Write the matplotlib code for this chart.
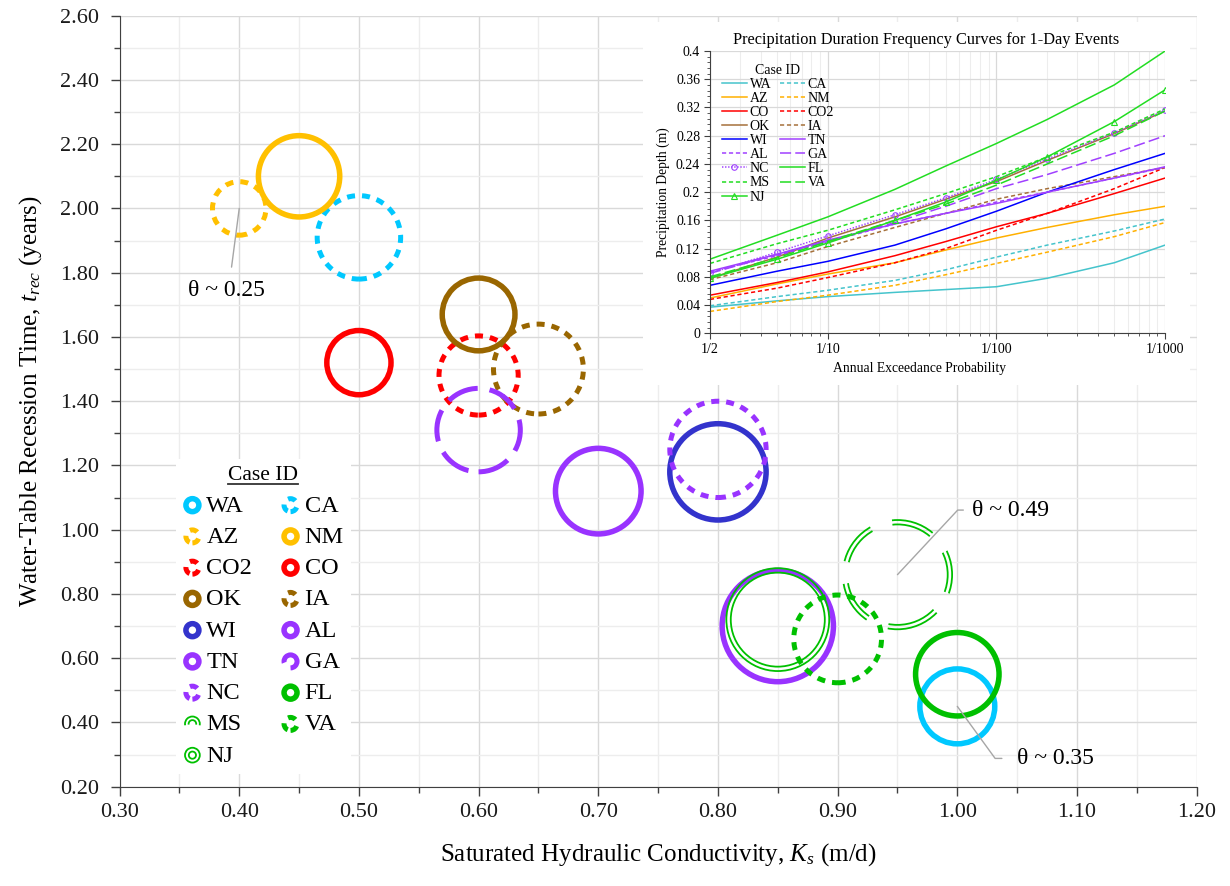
import matplotlib
matplotlib.use("Agg")
import matplotlib.pyplot as plt
import matplotlib.transforms as mtransforms
from matplotlib.lines import Line2D
from matplotlib.patches import Rectangle
from matplotlib.legend_handler import HandlerTuple
from matplotlib.ticker import MultipleLocator, FixedLocator, LogLocator, NullFormatter, FormatStrFormatter, FuncFormatter
import math

plt.rcParams["font.family"] = ["Liberation Serif", "DejaVu Serif"]
plt.rcParams["mathtext.fontset"] = "custom"
plt.rcParams["mathtext.rm"] = "Liberation Serif"
plt.rcParams["mathtext.it"] = "Liberation Serif:italic"
plt.rcParams["lines.scale_dashes"] = False

# ---------------------------------------------------------------
# bubble chart data: Ks (m/d), recession time (years), porosity
# ---------------------------------------------------------------
cases = ["WA", "CA", "AZ", "NM", "CO2", "CO", "OK", "IA", "WI",
         "AL", "TN", "GA", "NC", "FL", "MS", "VA", "NJ"]
ks = [1.00, 0.50, 0.40, 0.45, 0.60, 0.50, 0.60, 0.65, 0.80,
      0.85, 0.70, 0.60, 0.80, 1.00, 0.95, 0.90, 0.85]
trec = [0.45, 1.91, 2.00, 2.10, 1.48, 1.52, 1.67, 1.50, 1.18,
        0.70, 1.12, 1.31, 1.25, 0.55, 0.86, 0.66, 0.72]
theta = [0.35, 0.39, 0.25, 0.38, 0.37, 0.30, 0.34, 0.42, 0.45,
         0.52, 0.40, 0.39, 0.45, 0.39, 0.49, 0.41, 0.46]

# ---------------------------------------------------------------
# 1-day precipitation depth (m) vs return period (years)
# ---------------------------------------------------------------
periods = [2, 5, 10, 25, 50, 100, 200, 500, 1000]
depth_WA = [0.037, 0.046, 0.052, 0.058, 0.062, 0.066, 0.078, 0.100, 0.125]
depth_CA = [0.039, 0.052, 0.061, 0.075, 0.090, 0.108, 0.125, 0.145, 0.162]
depth_AZ = [0.050, 0.070, 0.084, 0.100, 0.118, 0.135, 0.150, 0.168, 0.180]
depth_NM = [0.031, 0.045, 0.054, 0.068, 0.083, 0.099, 0.115, 0.137, 0.157]
depth_CO = [0.054, 0.072, 0.087, 0.110, 0.130, 0.151, 0.170, 0.198, 0.220]
depth_CO2 = [0.048, 0.064, 0.079, 0.100, 0.120, 0.146, 0.170, 0.205, 0.235]
depth_OK = [0.078, 0.108, 0.135, 0.165, 0.190, 0.215, 0.245, 0.283, 0.315]
depth_IA = [0.076, 0.100, 0.123, 0.150, 0.170, 0.190, 0.205, 0.222, 0.235]
depth_WI = [0.068, 0.088, 0.102, 0.125, 0.148, 0.173, 0.200, 0.232, 0.255]
depth_TN = [0.088, 0.112, 0.132, 0.155, 0.170, 0.184, 0.200, 0.220, 0.236]
depth_AL = [0.087, 0.110, 0.130, 0.155, 0.170, 0.186, 0.200, 0.220, 0.235]
depth_GA = [0.085, 0.112, 0.130, 0.157, 0.180, 0.205, 0.225, 0.255, 0.280]
depth_NC = [0.085, 0.115, 0.138, 0.168, 0.192, 0.218, 0.247, 0.284, 0.316]
depth_FL = [0.105, 0.139, 0.165, 0.204, 0.237, 0.269, 0.303, 0.352, 0.400]
depth_MS = [0.099, 0.127, 0.146, 0.175, 0.198, 0.222, 0.250, 0.285, 0.318]
depth_VA = [0.080, 0.107, 0.130, 0.160, 0.183, 0.210, 0.240, 0.280, 0.315]
depth_NJ = [0.078, 0.105, 0.128, 0.160, 0.186, 0.217, 0.250, 0.300, 0.345]
period_labels = ["1/2", "1/10", "1/100", "1/1000"]
period_ticks = [2, 10, 100, 1000]

DPI = 100
PT = 72.0 / DPI          # points per pixel
R_PER_THETA = 107.0      # bubble radius in pixels per unit porosity

CYAN, GOLD, RED, BROWN = "#00c8ff", "#ffc000", "#ff0000", "#996600"
BLUE, PURPLE, GREEN = "#3333cc", "#9933ff", "#00c000"

# marker style per case: colour, kind
bubble_style = {
    "WA": (CYAN, "solid"), "CA": (CYAN, "dash"),
    "AZ": (GOLD, "dash"), "NM": (GOLD, "solid"),
    "CO2": (RED, "dash"), "CO": (RED, "solid"),
    "OK": (BROWN, "solid"), "IA": (BROWN, "dash"),
    "WI": (BLUE, "solid"), "AL": (PURPLE, "solid"),
    "TN": (PURPLE, "solid"), "GA": (PURPLE, "long"),
    "NC": (PURPLE, "dash"), "FL": (GREEN, "solid"),
    "MS": (GREEN, "double_long"), "VA": (GREEN, "dash"),
    "NJ": (GREEN, "double"),
}


def ring(ax, x, y, r_px, color, lw_px, dash=None, offset=0, zorder=3):
    """Open circle of given centre-line radius (px) drawn as a scatter marker."""
    size = (2 * r_px * PT) ** 2
    if dash is None:
        ls = "solid"
    else:
        ls = (offset * PT, tuple(d * PT for d in dash))
    return ax.scatter(x, y, s=size, facecolors="none", edgecolors=color,
                      linewidths=lw_px * PT, linestyles=ls, zorder=zorder)


def top_arc(ax, r_px, color, frac=0.56):
    # circle path starts at the bottom and runs anticlockwise: keep only the upper arc
    c = 2 * math.pi * r_px
    return ring(ax, [], [], r_px, color, 1.8, (frac * c, (1 - frac) * c),
                offset=c * (0.5 + frac / 2))


def bubble(ax, x, y, r, color, kind, zorder=3):
    if kind == "solid":
        return [ring(ax, x, y, r, color, 5.5, zorder=zorder)]
    if kind == "dash":
        return [ring(ax, x, y, r, color, 5.0, (8, 7), zorder=zorder)]
    if kind == "long":
        return [ring(ax, x, y, r, color, 5.0, (32, 12), zorder=zorder)]
    if kind == "double":
        return [ring(ax, x, y, r + 2.2, color, 1.8, zorder=zorder),
                ring(ax, x, y, r - 2.2, color, 1.8, zorder=zorder)]
    # double long dash: keep the dashes of both rings at the same angles
    out = []
    for rr in (r + 2.2, r - 2.2):
        k = rr / r
        out.append(ring(ax, x, y, rr, color, 1.8, (42 * k, 22 * k), zorder=zorder))
    return out


fig = plt.figure(figsize=(12.3, 8.86), dpi=DPI)
ax = fig.add_axes([0.0972, 0.1121, 0.8757, 0.8702])
ax.set_xlim(0.30, 1.20)
ax.set_ylim(0.20, 2.60)

for i, c in enumerate(cases):
    color, kind = bubble_style[c]
    bubble(ax, ks[i], trec[i], theta[i] * R_PER_THETA, color, kind)

ax.xaxis.set_major_locator(MultipleLocator(0.1))
ax.xaxis.set_minor_locator(MultipleLocator(0.05))
ax.yaxis.set_major_locator(MultipleLocator(0.2))
ax.yaxis.set_minor_locator(MultipleLocator(0.1))
ax.xaxis.set_major_formatter(FormatStrFormatter("%.2f"))
ax.yaxis.set_major_formatter(FormatStrFormatter("%.2f"))
ax.grid(which="major", color="#d9d9d9", lw=1.0)
ax.grid(which="minor", color="#ededed", lw=1.0)
ax.set_axisbelow(True)
for s in ("top", "right"):
    ax.spines[s].set_visible(False)
for s in ("left", "bottom"):
    ax.spines[s].set_color("#404040")
ax.tick_params(which="major", direction="out", length=6.5, width=1, color="#404040",
               labelsize=16, labelcolor="#1a1a1a", pad=8)
ax.tick_params(axis="x", which="major", pad=5)
ax.tick_params(which="minor", direction="out", length=4, width=1, color="#404040")
ax.set_xlabel("Saturated Hydraulic Conductivity, $K_s$ (m/d)", fontsize=18, labelpad=14)
ax.set_ylabel("Water-Table Recession Time, $t_{rec}$ (years)", fontsize=18, labelpad=12)

# porosity call-outs
i_az, i_ms, i_wa = cases.index("AZ"), cases.index("MS"), cases.index("WA")
lead = dict(arrowstyle="-", color="#a6a6a6", lw=1.0, shrinkB=0)
ax.annotate("θ ~ 0.25", xy=(ks[i_az], trec[i_az]), xytext=(0.389, 1.746),
            ha="center", va="center", fontsize=17,
            arrowprops=dict(lead, relpos=(0.55, 1.0), shrinkA=7))
ax.annotate("θ ~ 0.49", xy=(ks[i_ms], trec[i_ms]), xytext=(1.012, 1.061),
            ha="left", va="center", fontsize=17,
            arrowprops=dict(lead, relpos=(0.0, 0.5), shrinkA=4,
                            connectionstyle="angle,angleA=0,angleB=47,rad=0"))
ax.annotate("θ ~ 0.35", xy=(ks[i_wa], trec[i_wa]), xytext=(1.050, 0.288),
            ha="left", va="center", fontsize=17,
            arrowprops=dict(lead, relpos=(0.0, 0.5), shrinkA=9,
                            connectionstyle="angle,angleA=0,angleB=-54,rad=0"))

# legend with small ring icons, filled row by row
legend_rows = ["WA", "AZ", "CO2", "OK", "WI", "TN", "NC", "MS", "NJ",
               "CA", "NM", "CO", "IA", "AL", "GA", "FL", "VA"]
handles = []
for c in legend_rows:
    color, kind = bubble_style[c]
    if kind == "double":
        parts = [ring(ax, [], [], 7.4, color, 1.8), ring(ax, [], [], 3.6, color, 1.8)]
    elif kind == "double_long":
        parts = [top_arc(ax, 7.4, color), top_arc(ax, 3.8, color)]
    else:
        parts = bubble(ax, [], [], 6.5, color, kind)
    handles.append(tuple(parts))
leg = ax.legend(handles, legend_rows, ncol=2, title="Case ID", fontsize=17.5,
                title_fontsize=15.5, loc="upper left",
                bbox_to_anchor=(176 / 1230, 1 - 459 / 886), bbox_transform=fig.transFigure,
                frameon=True, facecolor="white", edgecolor="none", framealpha=1,
                fancybox=False, borderaxespad=0, borderpad=0.3, labelspacing=0.38,
                handlelength=0.75, handletextpad=0.2, columnspacing=1.2,
                handler_map={tuple: HandlerTuple(ndivide=1, pad=0)})
leg.set_zorder(5)

# ---------------------------------------------------------------
# inset: precipitation duration frequency curves
# ---------------------------------------------------------------
fig.add_artist(Rectangle((643 / 1230, 1 - 385 / 886), 547 / 1230, 363 / 886,
                         transform=fig.transFigure, facecolor="white",
                         edgecolor="none", zorder=6))
ins = fig.add_axes([0.5772, 0.6238, 0.3700, 0.3186], zorder=7)
ins.set_xscale("log")
ins.set_xlim(2, 1000)
ins.set_ylim(0, 0.4)

TEAL, ORANGE, IRED, IBROWN = "#45c4cc", "#ffb000", "#ff0000", "#a5703a"
IBLUE, IPURPLE, IGREEN = "#0000ff", "#a040ff", "#22dd22"
curves = [
    ("WA", depth_WA, TEAL, "-", None), ("CA", depth_CA, TEAL, (0, (3, 2)), None),
    ("AZ", depth_AZ, ORANGE, "-", None), ("NM", depth_NM, ORANGE, (0, (3, 2)), None),
    ("CO", depth_CO, IRED, "-", None), ("CO2", depth_CO2, IRED, (0, (3, 2)), None),
    ("OK", depth_OK, IBROWN, "-", None), ("IA", depth_IA, IBROWN, (0, (3, 2)), None),
    ("WI", depth_WI, IBLUE, "-", None), ("TN", depth_TN, IPURPLE, "-", None),
    ("AL", depth_AL, IPURPLE, (0, (3, 2)), None), ("GA", depth_GA, IPURPLE, (0, (8, 3)), None),
    ("NC", depth_NC, IPURPLE, (0, (1, 1.2)), "o"), ("FL", depth_FL, IGREEN, "-", None),
    ("MS", depth_MS, IGREEN, (0, (3, 2)), None), ("VA", depth_VA, IGREEN, (0, (8, 3)), None),
    ("NJ", depth_NJ, IGREEN, "-", "^"),
]
ilines = {}
for name, vals, col, ls, mk in curves:
    ln, = ins.plot(periods, vals, color=col, lw=1.1, linestyle=ls, marker=mk,
                   markersize=4, markerfacecolor="none", markeredgewidth=0.8)
    ilines[name] = ln

ins.xaxis.set_major_locator(FixedLocator(period_ticks))
ins.xaxis.set_major_formatter(FuncFormatter(lambda v, p: period_labels[period_ticks.index(int(round(v)))]
                                            if int(round(v)) in period_ticks else ""))
ins.xaxis.set_minor_locator(LogLocator(base=10, subs=range(2, 10)))
ins.xaxis.set_minor_formatter(NullFormatter())
ins.yaxis.set_major_locator(MultipleLocator(0.04))
ins.yaxis.set_minor_locator(MultipleLocator(0.008))
ins.yaxis.set_major_formatter(FuncFormatter(lambda v, p: "%g" % round(v, 2)))
ins.grid(which="major", color="#d9d9d9", lw=0.9)
ins.grid(which="minor", axis="x", color="#ededed", lw=0.8)
ins.set_axisbelow(True)
for s in ("top", "right"):
    ins.spines[s].set_visible(False)
for s in ("left", "bottom"):
    ins.spines[s].set_color("#404040")
ins.tick_params(which="major", direction="out", length=4, width=0.8, color="#404040",
                labelsize=10, pad=3)
ins.tick_params(which="minor", direction="out", length=2.5, width=0.6, color="#404040")
# titles are centred on the whole inset panel, not on its plot area
ins.set_title("Precipitation Duration Frequency Curves for 1-Day Events", fontsize=11.8,
              pad=5, x=0.475)
ins.set_xlabel("Annual Exceedance Probability", fontsize=9.8, labelpad=4)
ins.xaxis.label.set_x(0.46)
ins.set_ylabel("Precipitation Depth (m)", fontsize=9.8, labelpad=4)

ins_order = ["WA", "AZ", "CO", "OK", "WI", "AL", "NC", "MS", "NJ",
             "CA", "NM", "CO2", "IA", "TN", "GA", "FL", "VA"]
ileg = ins.legend([ilines[n] for n in ins_order], ins_order, ncol=2, title="Case ID",
                  fontsize=10, title_fontsize=10, loc="upper left",
                  bbox_to_anchor=(0.005, 0.99), frameon=False, labelspacing=0.08,
                  handlelength=1.8, handletextpad=0.2, columnspacing=0.6, borderpad=0.2)

# underline the main legend title
fig.canvas.draw()
bb = leg.get_title().get_window_extent()
fig.add_artist(Line2D([bb.x0, bb.x1], [bb.y0 + 1, bb.y0 + 1], color="#333333", lw=1.3,
                      transform=mtransforms.IdentityTransform(), zorder=8))

fig.savefig("out.png", dpi=DPI)
